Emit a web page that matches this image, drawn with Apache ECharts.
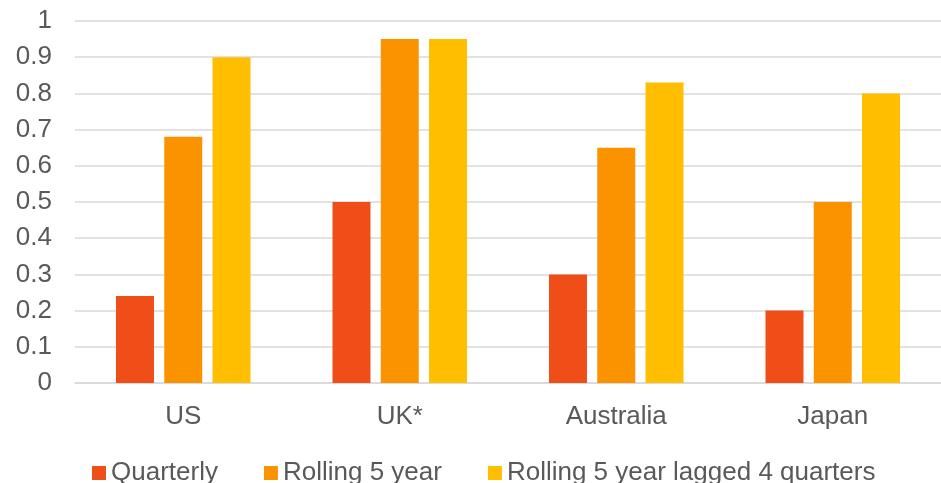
<!DOCTYPE html>
<html>
<head>
<meta charset="utf-8">
<style>html,body{margin:0;padding:0;background:#fff}#c{width:941px;height:483px}</style>
<script src="https://cdn.jsdelivr.net/npm/echarts@6/dist/echarts.min.js"></script>
</head>
<body>
<div id="c"></div>
<script>
var categories = ['US', 'UK*', 'Australia', 'Japan'];
var seriesNames = ['Quarterly', 'Rolling 5 year', 'Rolling 5 year lagged 4 quarters'];
var quarterly = [0.24, 0.50, 0.30, 0.20];
var rolling5 = [0.68, 0.95, 0.65, 0.50];
var rolling5Lagged = [0.90, 0.95, 0.83, 0.80];
var colors = ['#F04E19', '#FB9300', '#FFBE00'];

var font = 'Liberation Sans, Arial, sans-serif';
var textColor = '#595959';
var chart = echarts.init(document.getElementById('c'));
var dataList = [quarterly, rolling5, rolling5Lagged];
chart.setOption({
  animation: false,
  color: colors,
  grid: { show: false, left: 75, width: 869, top: 21, bottom: 100, containLabel: false },
  legend: {
    top: 460, left: 92, padding: 0,
    itemWidth: 14, itemHeight: 14, itemGap: 46,
    icon: 'rect',
    textStyle: { fontFamily: font, fontSize: 26, color: textColor },
    data: seriesNames
  },
  xAxis: {
    type: 'category',
    data: categories,
    axisLine: { lineStyle: { color: '#d9d9d9', width: 1.5 } },
    axisTick: { show: false },
    splitLine: { show: false },
    splitArea: { show: false },
    axisLabel: { fontFamily: font, fontSize: 26, color: textColor, margin: 21 }
  },
  yAxis: {
    type: 'value',
    min: 0, max: 1, interval: 0.1,
    axisLine: { show: false, lineStyle: { color: 'rgba(0,0,0,0)' } },
    axisTick: { show: false },
    splitLine: { lineStyle: { color: '#d9d9d9', width: 1.5 } },
    axisLabel: { fontFamily: font, fontSize: 26, color: textColor, margin: 23 }
  },
  series: seriesNames.map(function (n, i) {
    return {
      name: n,
      type: 'bar',
      data: dataList[i],
      barWidth: 38,
      barGap: '27%',
      itemStyle: { color: colors[i] }
    };
  })
});
</script>
</body>
</html>
